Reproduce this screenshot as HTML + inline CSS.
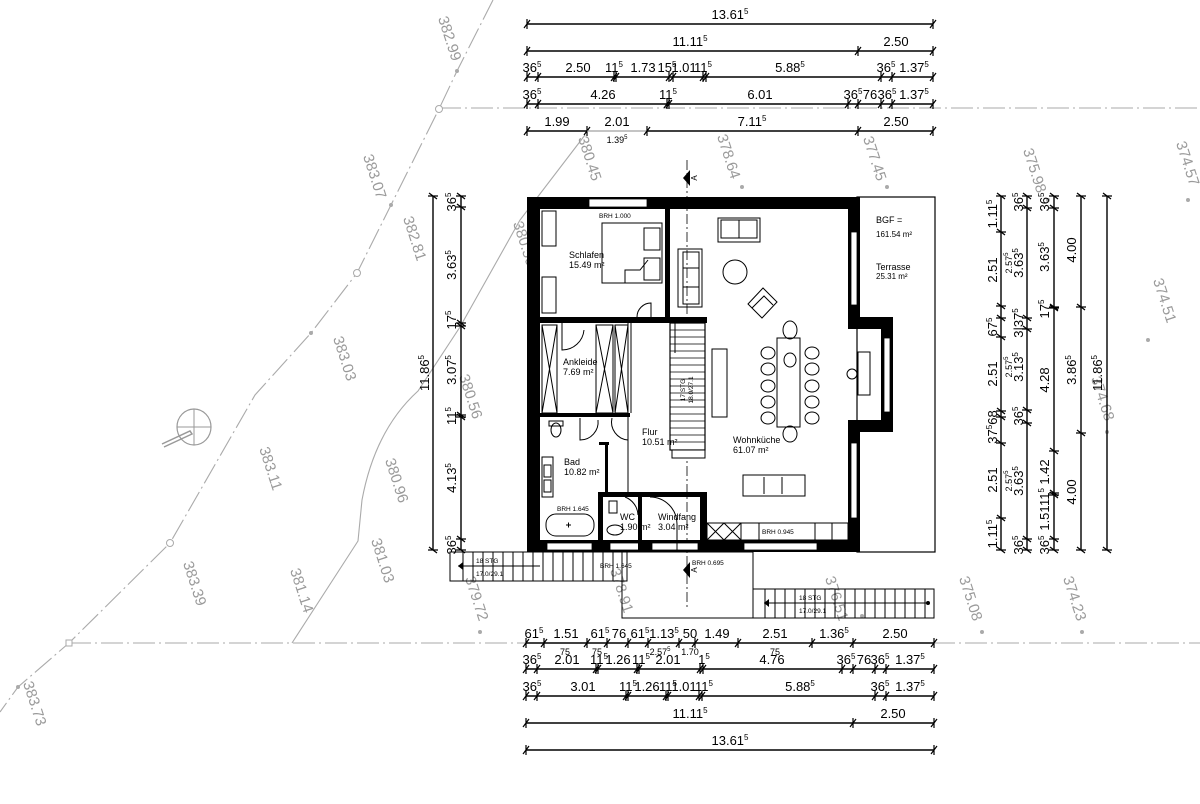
<!DOCTYPE html>
<html><head><meta charset="utf-8"><style>
html,body{margin:0;padding:0;background:#fff}
svg{display:block}
.d{font-family:"Liberation Sans",sans-serif;font-size:13px;fill:#000;text-anchor:middle}
.s{font-size:8px}
.r{font-family:"Liberation Sans",sans-serif;font-size:9px;fill:#000}
.sm{font-family:"Liberation Sans",sans-serif;font-size:6.5px;fill:#000}
.g{font-family:"Liberation Sans",sans-serif;font-size:15px;fill:#9a9a9a;text-anchor:middle}
.dl{fill:none;stroke:#000;stroke-width:1.4;marker-start:url(#t);marker-mid:url(#t);marker-end:url(#t)}
.gl{fill:none;stroke:#aaa;stroke-width:1.1}
.gd{fill:none;stroke:#aaa;stroke-width:1.1;stroke-dasharray:22 4 2 4}
.th{fill:none;stroke:#000;stroke-width:1}
.w{fill:#000}
.wi{fill:#fff;stroke:#000;stroke-width:0.8}
</style></head><body>
<svg width="1200" height="804" viewBox="0 0 1200 804" xmlns="http://www.w3.org/2000/svg">
<defs>
<marker id="t" markerWidth="12" markerHeight="12" refX="6" refY="6" orient="auto" markerUnits="userSpaceOnUse">
<path d="M3,10 L9,2 M6,1 L6,11" stroke="#000" stroke-width="1.2" fill="none"/>
</marker>
</defs>

<!-- survey lines -->
<polyline class="gd" points="493,0 457,71 439,109 391,205 357,273 311,333 255,395 170,543 69,643 18,687 0,712"/>
<line class="gd" x1="439" y1="108" x2="1200" y2="108"/>
<line class="gd" x1="69" y1="643" x2="1200" y2="643"/>
<path class="gl" d="M585,135 L520,220 L460,327 L418,391 Q375,430 362,500 L358,541 L292,643"/>
<circle cx="439" cy="109" r="3.5" fill="#fff" stroke="#aaa"/>
<circle cx="357" cy="273" r="3.5" fill="#fff" stroke="#aaa"/>
<circle cx="170" cy="543" r="3.5" fill="#fff" stroke="#aaa"/>
<rect x="66" y="640" width="6" height="6" fill="#fff" stroke="#aaa"/>
<g fill="#aaa"><circle cx="457" cy="71" r="2"/><circle cx="391" cy="205" r="2"/><circle cx="311" cy="333" r="2"/><circle cx="18" cy="687" r="2"/><circle cx="480" cy="632" r="2"/><circle cx="742" cy="187" r="2"/><circle cx="887" cy="187" r="2"/><circle cx="1048" cy="200" r="2"/><circle cx="1188" cy="200" r="2"/><circle cx="1148" cy="340" r="2"/><circle cx="1107" cy="432" r="2"/><circle cx="982" cy="632" r="2"/><circle cx="1082" cy="632" r="2"/><circle cx="862" cy="616" r="2"/></g>
<ellipse cx="194" cy="427" rx="17" ry="18" fill="none" stroke="#999" stroke-width="1.2"/>
<line x1="177" y1="427" x2="211" y2="427" stroke="#999"/>
<line x1="194" y1="409" x2="194" y2="445" stroke="#999"/>
<path d="M162,444 L190,431 L192,434 L164,447" fill="none" stroke="#999" stroke-width="1.5"/>

<g class="g">
<text transform="translate(445,40) rotate(72)">382.99</text>
<text transform="translate(370,178) rotate(72)">383.07</text>
<text transform="translate(410,240) rotate(72)">382.81</text>
<text transform="translate(340,360) rotate(72)">383.03</text>
<text transform="translate(266,470) rotate(72)">383.11</text>
<text transform="translate(190,585) rotate(72)">383.39</text>
<text transform="translate(30,705) rotate(72)">383.73</text>
<text transform="translate(297,592) rotate(72)">381.14</text>
<text transform="translate(378,562) rotate(72)">381.03</text>
<text transform="translate(392,482) rotate(72)">380.96</text>
<text transform="translate(466,398) rotate(72)">380.56</text>
<text transform="translate(520,245) rotate(72)">380.50</text>
<text transform="translate(585,160) rotate(72)">380.45</text>
<text transform="translate(472,600) rotate(72)">379.72</text>
<text transform="translate(617,592) rotate(72)">378.91</text>
<text transform="translate(724,158) rotate(72)">378.64</text>
<text transform="translate(870,160) rotate(72)">377.45</text>
<text transform="translate(832,600) rotate(72)">376.51</text>
<text transform="translate(966,600) rotate(72)">375.08</text>
<text transform="translate(1030,172) rotate(72)">375.98</text>
<text transform="translate(1183,165) rotate(72)">374.57</text>
<text transform="translate(1160,302) rotate(72)">374.51</text>
<text transform="translate(1098,400) rotate(72)">374.68</text>
<text transform="translate(1070,600) rotate(72)">374.23</text>
</g>

<!-- section line -->
<line x1="687" y1="160" x2="687" y2="610" stroke="#000" stroke-width="0.8" stroke-dasharray="10 3 2 3"/>
<path d="M683,178 L690,170 L690,186 Z" fill="#000"/>
<text class="sm" transform="translate(697,178) rotate(-90)" text-anchor="middle" style="font-size:8px">A</text>
<path d="M683,570 L690,562 L690,578 Z" fill="#000"/>
<text class="sm" transform="translate(697,570) rotate(-90)" text-anchor="middle" style="font-size:8px">A</text>

<!-- terrace -->
<rect x="857" y="197" width="78" height="355" fill="#fff" stroke="#000" stroke-width="1.2"/>

<!-- outer walls -->
<rect class="w" x="527" y="197" width="333" height="12"/>
<rect class="w" x="527" y="197" width="13" height="355"/>
<rect class="w" x="527" y="540" width="333" height="12"/>
<rect class="w" x="848" y="197" width="12" height="132"/>
<rect class="w" x="848" y="317" width="45" height="12"/>
<rect class="w" x="881" y="317" width="12" height="115"/>
<rect class="w" x="848" y="420" width="45" height="12"/>
<rect class="w" x="848" y="420" width="12" height="132"/>
<!-- windows -->
<rect class="wi" x="589" y="199" width="58" height="8"/>
<rect class="wi" x="851" y="232" width="6" height="73"/>
<rect class="wi" x="884" y="338" width="6" height="74"/>
<rect class="wi" x="851" y="443" width="6" height="75"/>
<rect class="wi" x="547" y="543" width="45" height="7"/>
<rect class="wi" x="610" y="543" width="30" height="7"/>
<rect class="wi" x="652" y="543" width="46" height="7"/>
<rect class="wi" x="744" y="543" width="73" height="7"/>

<!-- interior walls -->
<rect class="w" x="665" y="209" width="5" height="108"/>
<rect class="w" x="540" y="317" width="167" height="6"/>
<rect class="w" x="540" y="413" width="90" height="4"/>
<rect class="w" x="598" y="492" width="109" height="5"/>
<rect class="w" x="598" y="492" width="5" height="60"/>
<rect class="w" x="700" y="492" width="7" height="60"/>
<rect class="w" x="638" y="494" width="4" height="58"/>
<line class="th" x1="628" y1="323" x2="628" y2="492"/>
<line class="th" x1="631" y1="323" x2="631" y2="413"/>
<rect class="w" x="605" y="445" width="3" height="48"/>
<rect class="w" x="599" y="442" width="10" height="3"/>
<!-- stair -->
<rect x="670" y="323" width="35" height="127" fill="#fff" stroke="#000" stroke-width="1.2"/>
<rect x="672" y="450" width="33" height="8" fill="#fff" stroke="#000" stroke-width="1"/>
<g stroke="#000" stroke-width="0.8">
<line x1="670" y1="330" x2="705" y2="330"/><line x1="670" y1="337" x2="705" y2="337"/><line x1="670" y1="344" x2="705" y2="344"/><line x1="670" y1="351" x2="705" y2="351"/><line x1="670" y1="358" x2="705" y2="358"/><line x1="670" y1="365" x2="705" y2="365"/><line x1="670" y1="372" x2="705" y2="372"/><line x1="670" y1="379" x2="705" y2="379"/><line x1="670" y1="386" x2="705" y2="386"/><line x1="670" y1="393" x2="705" y2="393"/><line x1="670" y1="400" x2="705" y2="400"/><line x1="670" y1="407" x2="705" y2="407"/><line x1="670" y1="414" x2="705" y2="414"/><line x1="670" y1="421" x2="705" y2="421"/><line x1="670" y1="428" x2="705" y2="428"/><line x1="670" y1="435" x2="705" y2="435"/><line x1="670" y1="442" x2="705" y2="442"/>
</g>
<line x1="675" y1="323" x2="675" y2="353" stroke="#000"/>
<text class="sm" transform="translate(685,390) rotate(-90)" text-anchor="middle">17 STG</text>
<text class="sm" transform="translate(693,390) rotate(-90)" text-anchor="middle">18.0/27.1</text>

<!-- furniture -->
<g fill="none" stroke="#000" stroke-width="1">
<rect x="602" y="223" width="60" height="60"/>
<rect x="644" y="228" width="16" height="22"/><rect x="644" y="258" width="16" height="22"/>
<path d="M625,283 L625,270 L640,270 L648,260"/>
<rect x="542" y="211" width="14" height="35"/><rect x="542" y="277" width="14" height="36"/>
<path d="M637,317 A14,14 0 0 1 651,303 L651,317"/>
<rect x="542" y="325" width="15" height="88"/><path d="M542,325 L557,413 M557,325 L542,413"/>
<rect x="596" y="325" width="17" height="88"/><path d="M596,325 L613,413 M613,325 L596,413"/>
<rect x="615" y="325" width="13" height="88"/><path d="M615,325 L628,413 M628,325 L615,413"/>
<path d="M562,323 L562,350 A22,22 0 0 0 584,330"/>
<path d="M580,418 L580,440 A18,18 0 0 0 598,420"/>
<path d="M612,418 A18,18 0 0 0 628,440"/>
<ellipse cx="556" cy="430" rx="5" ry="7"/><rect x="549" y="421" width="14" height="5"/>
<rect x="542" y="457" width="11" height="40"/><rect x="544" y="465" width="7" height="12"/><rect x="544" y="480" width="7" height="12"/>
<rect x="546" y="514" width="48" height="22" rx="10"/>
<path d="M566,525 h5 M568.5,522.5 v5"/>
<rect x="609" y="501" width="8" height="12"/><ellipse cx="615" cy="530" rx="8" ry="5"/>
<path d="M625,497 A20,20 0 0 1 638,515"/>
<path d="M650,497 A27,27 0 0 1 677,524 L677,552"/>
<rect x="718" y="218" width="42" height="24"/><rect x="721" y="220" width="36" height="18"/><line x1="739" y1="220" x2="739" y2="238"/>
<rect x="678" y="249" width="24" height="58"/><rect x="683" y="252" width="16" height="52"/><line x1="683" y1="268" x2="699" y2="268"/><line x1="683" y1="287" x2="699" y2="287"/>
<circle cx="735" cy="272" r="12"/>
<path d="M748,304 L763,288 L777,302 L762,318 Z"/><path d="M752,308 L764,296 L773,305"/>
<rect x="712" y="349" width="15" height="68"/>
<rect x="777" y="338" width="23" height="89"/>
<ellipse cx="790" cy="330" rx="7" ry="9"/><ellipse cx="790" cy="434" rx="7" ry="8"/>
<ellipse cx="790" cy="360" rx="6" ry="7"/>
<ellipse cx="768" cy="353" rx="7" ry="6"/><ellipse cx="768" cy="369" rx="7" ry="6"/><ellipse cx="768" cy="386" rx="7" ry="6"/><ellipse cx="768" cy="402" rx="7" ry="6"/><ellipse cx="768" cy="418" rx="7" ry="6"/>
<ellipse cx="812" cy="353" rx="7" ry="6"/><ellipse cx="812" cy="369" rx="7" ry="6"/><ellipse cx="812" cy="386" rx="7" ry="6"/><ellipse cx="812" cy="402" rx="7" ry="6"/><ellipse cx="812" cy="418" rx="7" ry="6"/>
<rect x="858" y="352" width="12" height="43"/><circle cx="852" cy="374" r="5"/>
<rect x="743" y="475" width="62" height="21"/><line x1="764" y1="477" x2="764" y2="494"/><line x1="782" y1="477" x2="782" y2="494"/>
<rect x="707" y="523" width="141" height="17"/>
<path d="M707,523 L724,540 M724,523 L707,540 M724,523 L741,540 M741,523 L724,540 M741,523 v17 M759,523 v17 M815,523 v17 M832,523 v17"/>
</g>

<!-- exterior stairs and porch -->
<g fill="none" stroke="#000" stroke-width="1">
<rect x="450" y="552" width="177" height="29"/>
<path d="M463,552 v29 M473,552 v29 M483,552 v29 M493,552 v29 M503,552 v29 M513,552 v29 M523,552 v29 M533,552 v29 M543,552 v29 M553,552 v29 M563,552 v29 M573,552 v29 M583,552 v29 M593,552 v29 M603,552 v29 M613,552 v29"/>
<line x1="458" y1="566" x2="540" y2="566"/>
<rect x="622" y="552" width="131" height="66"/>
<rect x="753" y="589" width="181" height="29"/>
<path d="M765,589 v29 M775,589 v29 M785,589 v29 M795,589 v29 M805,589 v29 M815,589 v29 M825,589 v29 M835,589 v29 M845,589 v29 M855,589 v29 M865,589 v29 M875,589 v29 M885,589 v29 M895,589 v29 M905,589 v29 M915,589 v29 M925,589 v29"/>
<line x1="764" y1="603" x2="928" y2="603"/>
</g>
<circle cx="928" cy="603" r="2" fill="#000"/>
<path d="M458,566 L463,562 L463,570 Z M764,603 L769,599 L769,607 Z" fill="#000"/>
<rect x="465" y="555" width="30" height="22" fill="#fff" stroke="none" opacity="0.0"/>
<text class="sm" x="476" y="563">18 STG</text><text class="sm" x="476" y="576">17.0/29.1</text>
<text class="sm" x="799" y="600">18 STG</text><text class="sm" x="799" y="613">17.0/29.1</text>

<!-- room labels -->
<text class="sm" x="599" y="218">BRH 1.000</text>
<text class="r" x="569" y="258">Schlafen</text><text class="r" x="569" y="268">15.49 m²</text>
<text class="r" x="563" y="365">Ankleide</text><text class="r" x="563" y="375">7.69 m²</text>
<text class="r" x="642" y="435">Flur</text><text class="r" x="642" y="445">10.51 m²</text>
<text class="r" x="733" y="443">Wohnküche</text><text class="r" x="733" y="453">61.07 m²</text>
<text class="r" x="564" y="465">Bad</text><text class="r" x="564" y="475">10.82 m²</text>
<text class="sm" x="557" y="511">BRH 1.645</text>
<text class="r" x="620" y="520">WC</text><text class="r" x="620" y="530">1.90 m²</text>
<text class="r" x="658" y="520">Windfang</text><text class="r" x="658" y="530">3.04 m²</text>
<text class="sm" x="762" y="534">BRH 0.945</text>
<text class="sm" x="692" y="565">BRH 0.695</text>
<text class="sm" x="600" y="568">BRH 1.645</text>
<text class="r" x="876" y="223">BGF =</text><text class="r" x="876" y="237" style="font-size:8px">161.54 m²</text>
<text class="r" x="876" y="270">Terrasse</text><text class="r" x="876" y="279" style="font-size:8px">25.31 m²</text>

<!-- top dimension strings -->
<polyline class="dl" points="527,24 933,24"/>
<polyline class="dl" points="527,51 858,51 933,51"/>
<polyline class="dl" points="527,77 538,77 614,77 616,77 669,77 673,77 703,77 706,77 881,77 892,77 933,77"/>
<polyline class="dl" points="527,104 538,104 667,104 669,104 848,104 858,104 881,104 892,104 933,104"/>
<polyline class="dl" points="527,131 587,131"/>
<line x1="587" y1="131" x2="647" y2="131" stroke="#888" stroke-width="1"/>
<polyline class="dl" points="647,131 858,131 933,131"/>
<g class="d">
<text x="730" y="19">13.61<tspan class="s" dy="-5">5</tspan></text>
<text x="690" y="46">11.11<tspan class="s" dy="-5">5</tspan></text><text x="896" y="46">2.50</text>
<text x="532" y="72">36<tspan class="s" dy="-5">5</tspan></text><text x="578" y="72">2.50</text><text x="614" y="72">11<tspan class="s" dy="-5">5</tspan></text><text x="643" y="72">1.73</text><text x="667" y="72">15<tspan class="s" dy="-5">5</tspan></text><text x="684" y="72">1.01</text><text x="703" y="72">11<tspan class="s" dy="-5">5</tspan></text><text x="790" y="72">5.88<tspan class="s" dy="-5">5</tspan></text><text x="886" y="72">36<tspan class="s" dy="-5">5</tspan></text><text x="914" y="72">1.37<tspan class="s" dy="-5">5</tspan></text>
<text x="532" y="99">36<tspan class="s" dy="-5">5</tspan></text><text x="603" y="99">4.26</text><text x="668" y="99">11<tspan class="s" dy="-5">5</tspan></text><text x="760" y="99">6.01</text><text x="853" y="99">36<tspan class="s" dy="-5">5</tspan></text><text x="870" y="99">76</text><text x="887" y="99">36<tspan class="s" dy="-5">5</tspan></text><text x="914" y="99">1.37<tspan class="s" dy="-5">5</tspan></text>
<text x="557" y="126">1.99</text><text x="617" y="126">2.01</text><text x="617" y="143" style="font-size:9px">1.39<tspan class="s" style="font-size:6px" dy="-4">5</tspan></text><text x="752" y="126">7.11<tspan class="s" dy="-5">5</tspan></text><text x="896" y="126">2.50</text>
</g>

<!-- bottom dimension strings -->
<polyline class="dl" points="526,643 544,643 587,643 607,643 628,643 648,643 679,643 695,643 738,643 812,643 853,643 934,643"/>
<polyline class="dl" points="526,669 537,669 596,669 598,669 637,669 639,669 700,669 703,669 842,669 853,669 875,669 886,669 934,669"/>
<polyline class="dl" points="526,696 537,696 626,696 628,696 666,696 668,696 699,696 702,696 875,696 886,696 934,696"/>
<polyline class="dl" points="526,723 853,723 934,723"/>
<polyline class="dl" points="526,750 934,750"/>
<g class="d">
<text x="534" y="638">61<tspan class="s" dy="-5">5</tspan></text><text x="566" y="638">1.51</text><text x="600" y="638">61<tspan class="s" dy="-5">5</tspan></text><text x="619" y="638">76</text><text x="640" y="638">61<tspan class="s" dy="-5">5</tspan></text><text x="664" y="638">1.13<tspan class="s" dy="-5">5</tspan></text><text x="690" y="638">50</text><text x="717" y="638">1.49</text><text x="775" y="638">2.51</text><text x="834" y="638">1.36<tspan class="s" dy="-5">5</tspan></text><text x="895" y="638">2.50</text>
<text x="565" y="655" style="font-size:9px">75</text><text x="597" y="655" style="font-size:9px">75</text><text x="775" y="655" style="font-size:9px">75</text>
<text x="660" y="655" style="font-size:9px">2.57<tspan style="font-size:6px" dy="-4">5</tspan></text><text x="690" y="655" style="font-size:9px">1.70</text>
<text x="532" y="664">36<tspan class="s" dy="-5">5</tspan></text><text x="567" y="664">2.01</text><text x="599" y="664">11<tspan class="s" dy="-5">5</tspan></text><text x="618" y="664">1.26</text><text x="641" y="664">11<tspan class="s" dy="-5">5</tspan></text><text x="668" y="664">2.01</text><text x="704" y="664">1<tspan class="s" dy="-5">5</tspan></text><text x="772" y="664">4.76</text><text x="846" y="664">36<tspan class="s" dy="-5">5</tspan></text><text x="864" y="664">76</text><text x="880" y="664">36<tspan class="s" dy="-5">5</tspan></text><text x="910" y="664">1.37<tspan class="s" dy="-5">5</tspan></text>
<text x="532" y="691">36<tspan class="s" dy="-5">5</tspan></text><text x="583" y="691">3.01</text><text x="628" y="691">11<tspan class="s" dy="-5">5</tspan></text><text x="647" y="691">1.26</text><text x="668" y="691">11<tspan class="s" dy="-5">5</tspan></text><text x="684" y="691">1.01</text><text x="704" y="691">11<tspan class="s" dy="-5">5</tspan></text><text x="800" y="691">5.88<tspan class="s" dy="-5">5</tspan></text><text x="880" y="691">36<tspan class="s" dy="-5">5</tspan></text><text x="910" y="691">1.37<tspan class="s" dy="-5">5</tspan></text>
<text x="690" y="718">11.11<tspan class="s" dy="-5">5</tspan></text><text x="893" y="718">2.50</text>
<text x="730" y="745">13.61<tspan class="s" dy="-5">5</tspan></text>
</g>

<!-- left vertical dims -->
<polyline class="dl" points="433,196 433,550"/>
<polyline class="dl" points="461,196 461,207 461,323 461,326 461,415 461,417 461,539 461,550"/>
<g class="d">
<text transform="translate(429,373) rotate(-90)">11.86<tspan class="s" dy="-5">5</tspan></text>
<text transform="translate(456,202) rotate(-90)">36<tspan class="s" dy="-5">5</tspan></text>
<text transform="translate(456,265) rotate(-90)">3.63<tspan class="s" dy="-5">5</tspan></text>
<text transform="translate(456,320) rotate(-90)">17<tspan class="s" dy="-5">5</tspan></text>
<text transform="translate(456,370) rotate(-90)">3.07<tspan class="s" dy="-5">5</tspan></text>
<text transform="translate(456,416) rotate(-90)">11<tspan class="s" dy="-5">5</tspan></text>
<text transform="translate(456,478) rotate(-90)">4.13<tspan class="s" dy="-5">5</tspan></text>
<text transform="translate(456,545) rotate(-90)">36<tspan class="s" dy="-5">5</tspan></text>
</g>

<!-- right vertical dims -->
<polyline class="dl" points="1001,196 1001,232 1001,306 1001,318 1001,337 1001,411 1001,417 1001,443 1001,518 1001,550"/>
<polyline class="dl" points="1027,196 1027,208 1027,318 1027,329 1027,410 1027,423 1027,539 1027,550"/>
<polyline class="dl" points="1054,196 1054,208 1054,307 1054,308 1054,451 1054,493 1054,495 1054,539 1054,550"/>
<polyline class="dl" points="1081,196 1081,307 1081,433 1081,550"/>
<polyline class="dl" points="1107,196 1107,550"/>
<g class="d">
<text transform="translate(997,214) rotate(-90)">1.11<tspan class="s" dy="-5">5</tspan></text>
<text transform="translate(997,270) rotate(-90)">2.51</text>
<text transform="translate(997,327) rotate(-90)">67<tspan class="s" dy="-5">5</tspan></text>
<text transform="translate(997,374) rotate(-90)">2.51</text>
<text transform="translate(997,427) rotate(-90)">37<tspan class="s" dy="-5">5</tspan><tspan dy="5">68</tspan></text>
<text transform="translate(997,480) rotate(-90)">2.51</text>
<text transform="translate(997,534) rotate(-90)">1.11<tspan class="s" dy="-5">5</tspan></text>
<text transform="translate(1023,202) rotate(-90)">36<tspan class="s" dy="-5">5</tspan></text>
<text transform="translate(1012,263) rotate(-90)" style="font-size:9px">2.57<tspan style="font-size:6px" dy="-4">5</tspan></text>
<text transform="translate(1023,263) rotate(-90)">3.63<tspan class="s" dy="-5">5</tspan></text>
<text transform="translate(1023,323) rotate(-90)">3|37<tspan class="s" dy="-5">5</tspan></text>
<text transform="translate(1012,367) rotate(-90)" style="font-size:9px">2.57<tspan style="font-size:6px" dy="-4">5</tspan></text>
<text transform="translate(1023,367) rotate(-90)">3.13<tspan class="s" dy="-5">5</tspan></text>
<text transform="translate(1023,416) rotate(-90)">36<tspan class="s" dy="-5">5</tspan></text>
<text transform="translate(1012,481) rotate(-90)" style="font-size:9px">2.57<tspan style="font-size:6px" dy="-4">5</tspan></text>
<text transform="translate(1023,481) rotate(-90)">3.63<tspan class="s" dy="-5">5</tspan></text>
<text transform="translate(1023,545) rotate(-90)">36<tspan class="s" dy="-5">5</tspan></text>
<text transform="translate(1049,202) rotate(-90)">36<tspan class="s" dy="-5">5</tspan></text>
<text transform="translate(1049,257) rotate(-90)">3.63<tspan class="s" dy="-5">5</tspan></text>
<text transform="translate(1049,309) rotate(-90)">17<tspan class="s" dy="-5">5</tspan></text>
<text transform="translate(1049,380) rotate(-90)">4.28</text>
<text transform="translate(1049,472) rotate(-90)">1.42</text>
<text transform="translate(1049,497) rotate(-90)">11<tspan class="s" dy="-5">5</tspan></text>
<text transform="translate(1049,518) rotate(-90)">1.51</text>
<text transform="translate(1049,545) rotate(-90)">36<tspan class="s" dy="-5">5</tspan></text>
<text transform="translate(1076,250) rotate(-90)">4.00</text>
<text transform="translate(1076,370) rotate(-90)">3.86<tspan class="s" dy="-5">5</tspan></text>
<text transform="translate(1076,492) rotate(-90)">4.00</text>
<text transform="translate(1102,373) rotate(-90)">11.86<tspan class="s" dy="-5">5</tspan></text>
</g>
</svg>
</body></html>
